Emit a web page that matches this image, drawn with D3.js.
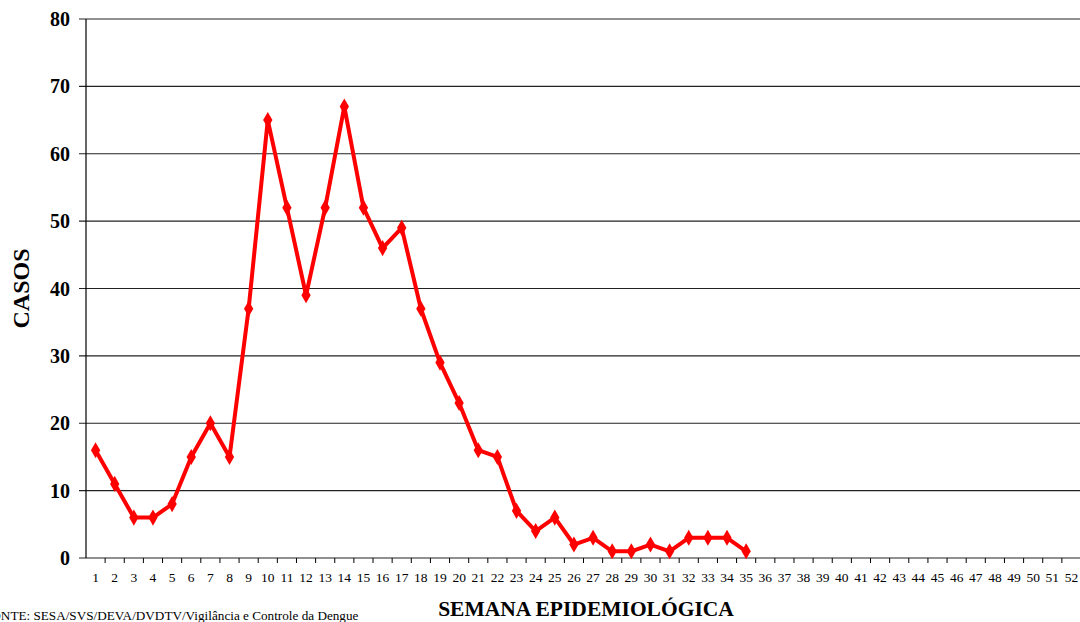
<!DOCTYPE html>
<html>
  <head>
    <meta charset="utf-8">
    <title>Casos por semana</title>
    <style media="screen">
    body{margin: 0; background: #fff}
    svg text{font-family: "Liberation Serif", "Times New Roman", serif; fill: #000}
    </style>
  </head>
  <body>
    <script src="https://d3js.org/d3.v7.min.js"></script>
    <script type="text/javascript">
      // semanas epidemiologicas 1..52
      var semanas = d3.range(1, 53)
      // casos notificados por semana (ate a semana 35)
      var casos = [16, 11, 6, 6, 8, 15, 20, 15, 37, 65, 52, 39, 52, 67, 52, 46, 49,
        37, 29, 23, 16, 15, 7, 4, 6, 2, 3, 1, 1, 2, 1, 3, 3, 3, 1]
      var yTicks = [0, 10, 20, 30, 40, 50, 60, 70, 80]

      var w = 1080, h = 622
      var m = {left: 86, top: 19, right: -1, bottom: 64}

      var svg = d3.select('body').append('svg')
        .attr('width', w)
        .attr('height', h)

      var x = d3.scaleBand()
        .domain(semanas)
        .range([m.left, w - m.right])

      var y = d3.scaleLinear()
        .domain([0, 80])
        .range([h - m.bottom, m.top])

      // grid
      svg.append('g')
        .selectAll('line')
        .data(yTicks)
        .enter().append('line')
          .attr('x1', m.left - 7)
          .attr('x2', w)
          .attr('y1', function(d){ return y(d) })
          .attr('y2', function(d){ return y(d) })
          .attr('stroke', '#222')
          .attr('stroke-width', 1.2)

      // y labels
      svg.append('g')
        .selectAll('text')
        .data(yTicks)
        .enter().append('text')
          .attr('x', 70)
          .attr('y', function(d){ return y(d) })
          .attr('dy', '0.35em')
          .attr('text-anchor', 'end')
          .attr('font-size', 20)
          .attr('font-weight', 'bold')
          .text(function(d){ return d })

      // left axis line
      svg.append('line')
        .attr('x1', m.left).attr('x2', m.left)
        .attr('y1', y(80)).attr('y2', y(0))
        .attr('stroke', '#000')
        .attr('stroke-width', 1.2)

      // x axis
      var xAxis = d3.axisBottom(x).tickSize(0).tickPadding(14)
      var gx = svg.append('g')
        .attr('transform', 'translate(0,' + y(0) + ')')
        .call(xAxis)
      gx.select('.domain').remove()
      gx.selectAll('text')
        .attr('font-family', '"Liberation Serif", serif')
        .attr('font-size', 13.5)
        .attr('fill', '#000')

      svg.append('g')
        .selectAll('line')
        .data(semanas)
        .enter().append('line')
          .attr('x1', function(d){ return x(d) + x.bandwidth() })
          .attr('x2', function(d){ return x(d) + x.bandwidth() })
          .attr('y1', y(0))
          .attr('y2', y(0) + 5)
          .attr('stroke', '#000')

      var cx = function(d, i){ return x(semanas[i]) + x.bandwidth() / 2 }

      var line = d3.line()
        .x(cx)
        .y(function(d){ return y(d) })

      svg.append('path')
        .datum(casos)
        .attr('d', line)
        .attr('fill', 'none')
        .attr('stroke', '#ff0000')
        .attr('stroke-width', 4)
        .attr('stroke-linejoin', 'round')

      svg.append('g')
        .selectAll('path')
        .data(casos)
        .enter().append('path')
          .attr('d', d3.symbol().type(d3.symbolDiamond).size(75))
          .attr('transform', function(d, i){ return 'translate(' + cx(d, i) + ',' + y(d) + ')' })
          .attr('fill', '#ff0000')

      // titles
      svg.append('text')
        .attr('transform', 'translate(29,' + ((y(0) + y(80)) / 2) + ') rotate(-90)')
        .attr('text-anchor', 'middle')
        .attr('font-size', 24)
        .attr('font-weight', 'bold')
        .text('CASOS')

      svg.append('text')
        .attr('x', 586)
        .attr('y', 616)
        .attr('text-anchor', 'middle')
        .attr('font-size', 21.5)
        .attr('font-weight', 'bold')
        .text('SEMANA EPIDEMIOLÓGICA')

      svg.append('text')
        .attr('x', -16)
        .attr('y', 620)
        .attr('font-size', 13.2)
        .text('FONTE: SESA/SVS/DEVA/DVDTV/Vigilância e Controle da Dengue')
    </script>
  </body>
</html>
